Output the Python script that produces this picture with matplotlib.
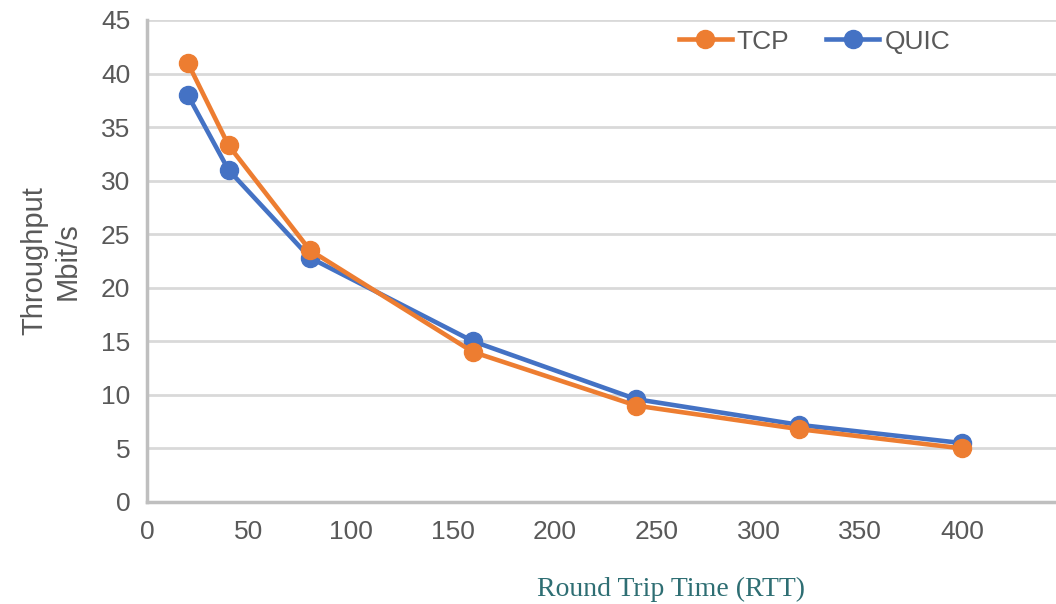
import matplotlib
matplotlib.use('Agg')
import matplotlib.pyplot as plt

# round trip time (ms) and measured throughput (Mbit/s)
rtt = [20, 40, 80, 160, 240, 320, 400]
tcp_throughput = [41.0, 33.3, 23.5, 14.0, 9.0, 6.8, 5.0]
quic_throughput = [38.0, 31.0, 22.8, 15.0, 9.6, 7.2, 5.5]

x_ticks = [0, 50, 100, 150, 200, 250, 300, 350, 400]
y_ticks = [0, 5, 10, 15, 20, 25, 30, 35, 40, 45]

tcp_color = '#ED7D31'
quic_color = '#4472C4'
text_color = '#595959'
grid_color = '#D9D9D9'
spine_color = '#BFBFBF'

plt.rcParams['font.family'] = ['Liberation Sans', 'DejaVu Sans']

fig = plt.figure(figsize=(10.56, 6.04), dpi=100)
ax = fig.add_axes([0.1392, 0.1689, 0.8608, 0.798])

ax.plot(rtt, quic_throughput, color=quic_color, lw=3.3, marker='o', ms=13,
        label='QUIC', zorder=3)
ax.plot(rtt, tcp_throughput, color=tcp_color, lw=3.3, marker='o', ms=13,
        label='TCP', zorder=4)

ax.set_xlim(0, 446)
ax.set_ylim(0, 45)
ax.set_xticks(x_ticks)
ax.set_yticks(y_ticks)
ax.tick_params(axis='both', length=0, labelsize=19, labelcolor=text_color)
ax.tick_params(axis='x', pad=13)
ax.tick_params(axis='y', pad=12)

# horizontal gridlines only
ax.grid(axis='y', color=grid_color, lw=2)
ax.set_axisbelow(True)
for side in ['top', 'right']:
    ax.spines[side].set_visible(False)
for side in ['left', 'bottom']:
    ax.spines[side].set_color(spine_color)
    ax.spines[side].set_linewidth(2.5)

ax.set_ylabel('Throughput\nMbit/s', fontsize=21, color=text_color,
              linespacing=1.25, labelpad=14)

fig.text(0.635, 0.003, 'Round Trip Time (RTT)', ha='center', va='bottom',
         fontsize=20, color='#2E6E73', family=['Liberation Serif', 'DejaVu Serif'])

handles, labels = ax.get_legend_handles_labels()
ax.legend(handles[::-1], labels[::-1], loc='center left',
          bbox_to_anchor=(0.585, 0.955), ncol=2, frameon=False, fontsize=19,
          labelcolor=text_color, handlelength=2.0, handletextpad=0.2,
          columnspacing=1.4, borderaxespad=0, borderpad=0)

fig.savefig('out.png', dpi=100)
